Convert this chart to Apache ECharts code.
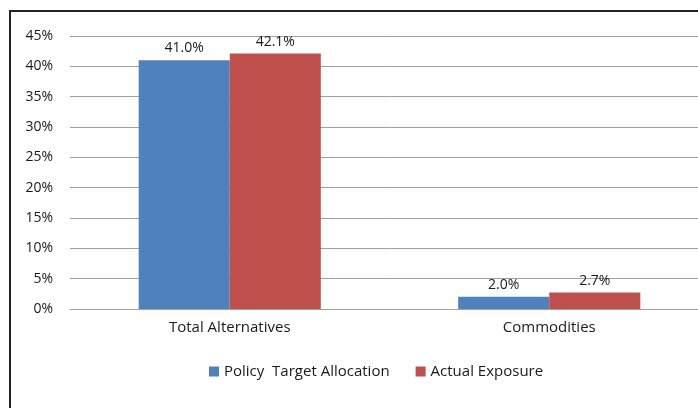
<!DOCTYPE html>
<html><head><meta charset="utf-8">
<script src="https://cdn.jsdelivr.net/npm/echarts@6/dist/echarts.min.js"></script>
<style>html,body{margin:0;padding:0;background:#fff;overflow:hidden;width:698px;height:408px}#c{width:730px;height:408px}</style>
</head><body><div id="c"></div>
<script>
const categories = ["Total Alternatives", "Commodities"];
const policyTarget = [41.0, 2.0];
const actualExposure = [42.1, 2.7];
const seriesNames = ["Policy  Target Allocation", "Actual Exposure"];

const FONT = "Open Sans";
const chart = echarts.init(document.getElementById('c'), null, {renderer: 'canvas'});
const lbl = {
  show: true, position: 'top', distance: 5,
  formatter: p => p.value.toFixed(1) + '%',
  color: '#1a1a1a', fontFamily: FONT, fontSize: 14
};
chart.setOption({
  animation: false,
  textStyle: {fontFamily: FONT},
  graphic: [{
    type: 'rect', shape: {x: 10, y: 11, width: 740, height: 430},
    style: {fill: 'none', stroke: '#222', lineWidth: 2}, silent: true, z: 100
  }],
  legend: {
    data: seriesNames, left: 204, top: 359,
    itemWidth: 10, itemHeight: 10, itemGap: 26, icon: 'rect',
    textStyle: {fontFamily: FONT, fontSize: 15, color: '#1a1a1a'}
  },
  grid: {left: 70, top: 36, width: 639, height: 273, containLabel: false},
  xAxis: {
    type: 'category', data: categories,
    axisLine: {lineStyle: {color: '#a0a0a0', width: 1}},
    axisTick: {show: false},
    axisLabel: {color: '#1a1a1a', fontFamily: FONT, fontSize: 15, margin: 11}
  },
  yAxis: {
    type: 'value', min: 0, max: 45, interval: 5,
    axisLine: {show: false}, axisTick: {show: false},
    axisLabel: {formatter: v => v + '%', color: '#1a1a1a', fontFamily: FONT, fontSize: 14, margin: 17},
    splitLine: {lineStyle: {color: '#a0a0a0', width: 1}}
  },
  series: [
    {name: seriesNames[0], type: 'bar', data: policyTarget, barGap: '0%', barCategoryGap: '43%',
     itemStyle: {color: '#4f81bd'}, label: lbl},
    {name: seriesNames[1], type: 'bar', data: actualExposure, barGap: '0%', barCategoryGap: '43%',
     itemStyle: {color: '#c0504d'}, label: lbl}
  ]
});
</script></body></html>
